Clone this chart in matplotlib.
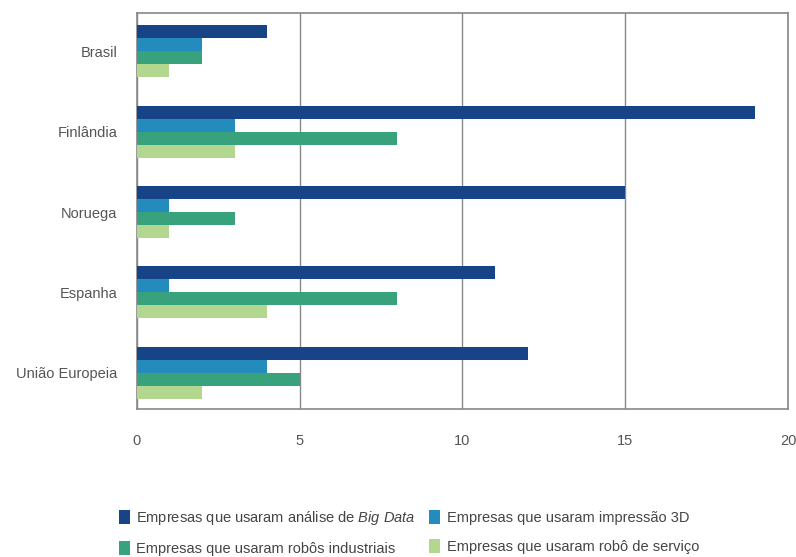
import matplotlib
matplotlib.use("Agg")
import matplotlib.pyplot as plt
import numpy as np
from matplotlib.patches import Patch

plt.rcParams['font.family'] = ['Liberation Sans', 'DejaVu Sans']
plt.rcParams['mathtext.fontset'] = 'custom'
plt.rcParams['mathtext.rm'] = 'Liberation Sans'
plt.rcParams['mathtext.it'] = 'Liberation Sans:italic'

countries = ["Brasil", "Finlândia", "Noruega", "Espanha", "União Europeia"]
big_data = [4, 19, 15, 11, 12]
impressao_3d = [2, 3, 1, 1, 4]
robos_industriais = [2, 8, 3, 8, 5]
robo_servico = [1, 3, 1, 4, 2]

series = [
    ("Empresas que usaram análise de $\\it{Big\\ Data}$", big_data, "#174486"),
    ("Empresas que usaram impressão 3D", impressao_3d, "#238cbd"),
    ("Empresas que usaram robôs industriais", robos_industriais, "#37a27b"),
    ("Empresas que usaram robô de serviço", robo_servico, "#b3d78e"),
]

fig = plt.figure(figsize=(7.96, 5.57), dpi=100)
ax = fig.add_axes([0.172, 0.266, 0.818, 0.711])

y = np.arange(len(countries))
h = 0.162
for k, (label, vals, color) in enumerate(series):
    ax.barh(y + (k - 1.5) * h, vals, height=h, color=color, zorder=3)

ax.set_ylim(4.45, -0.48)
ax.set_xlim(0, 20)
ax.set_xticks([0, 5, 10, 15, 20])
ax.set_yticks(y)
ax.set_yticklabels(countries)
ax.tick_params(axis='both', length=0, labelsize=10.5, colors="#555555")
ax.tick_params(axis='x', pad=18)
ax.tick_params(axis='y', pad=14)
ax.grid(axis='x', color="#888888", linewidth=1, zorder=0)
for s in ax.spines.values():
    s.set_color("#888888")
    s.set_linewidth(1.2)

handles = [Patch(facecolor=c, edgecolor='none') for _, _, c in series]
labels = [l for l, _, _ in series]
order = [0, 2, 1, 3]
fig.legend([handles[i] for i in order], [labels[i] for i in order],
           loc='lower left', bbox_to_anchor=(0.133, -0.022),
           ncol=2, frameon=False, fontsize=10.5, handlelength=0.75, handleheight=1.15,
           handletextpad=0.45, columnspacing=0.9, labelspacing=0.95, labelcolor="#444444")

fig.savefig("out.png", dpi=100)
